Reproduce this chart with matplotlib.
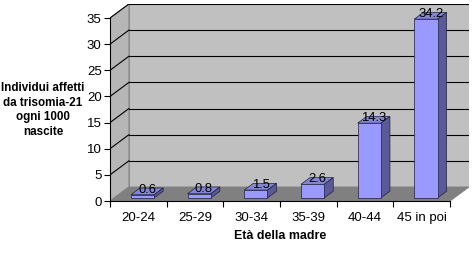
import matplotlib
matplotlib.use("Agg")
import matplotlib.pyplot as plt
from matplotlib.patches import Polygon
import numpy as np

# ---------------------------------------------------------------------------
# Data
# ---------------------------------------------------------------------------
categories = ["20-24", "25-29", "30-34", "35-39", "40-44", "45 in poi"]
values = [0.6, 0.8, 1.5, 2.6, 14.3, 34.2]
yticks = [0, 5, 10, 15, 20, 25, 30, 35]

# ---------------------------------------------------------------------------
# Figure
# ---------------------------------------------------------------------------
plt.rcParams.update({"font.family": "Liberation Sans", "font.size": 9.5})

C_FRONT = "#9999ff"
C_TOP = "#8585d6"
C_SIDE = "#5a5a96"
C_WALL = "#c0c0c0"
C_LWALL = "#b6b6b6"
C_FLOOR = "#808080"

DX, DY = 0.333, 2.68      # depth offset of the 3-D box (data units)
F0, F1 = 0.22, 0.70       # bar front / back depth fraction
W = 0.41                  # bar width

fig = plt.figure(figsize=(4.74, 2.54), dpi=100)
ax = fig.add_axes([110 / 474, 53 / 254, 359 / 474, 197 / 254])
ax.set_xlim(-0.5, 5.5 + DX)
ax.set_ylim(0, 35 + DY)
ax.patch.set_visible(False)

n = len(categories)
x0, x1 = -0.5, n - 0.5

# walls and floor
ax.add_patch(Polygon([(x0 + DX, DY), (x1 + DX, DY), (x1 + DX, 35 + DY), (x0 + DX, 35 + DY)],
                     closed=True, fc=C_WALL, ec="#808080", lw=0.6, zorder=0))
ax.add_patch(Polygon([(x0, 0), (x0, 35), (x0 + DX, 35 + DY), (x0 + DX, DY)],
                     closed=True, fc=C_LWALL, ec="#808080", lw=0.6, zorder=0))
ax.add_patch(Polygon([(x0, 0), (x1, 0), (x1 + DX, DY), (x0 + DX, DY)],
                     closed=True, fc=C_FLOOR, ec="#808080", lw=0.6, zorder=1))

# gridlines on back and left wall
for v in yticks[1:]:
    ax.plot([x0 + DX, x1 + DX], [v + DY, v + DY], color="black", lw=0.8, zorder=1)
    ax.plot([x0, x0 + DX], [v, v + DY], color="black", lw=0.8, zorder=1)

# bars
xs = np.arange(n)
ax.bar(xs + F0 * DX, values, width=W, bottom=F0 * DY, color=C_FRONT,
       edgecolor="#202040", linewidth=0.5, zorder=4)
for xc, v in zip(xs, values):
    l = xc + F0 * DX - W / 2
    r = xc + F0 * DX + W / 2
    b = F0 * DY
    t = v + F0 * DY
    ddx, ddy = (F1 - F0) * DX, (F1 - F0) * DY
    ax.add_patch(Polygon([(l, t), (r, t), (r + ddx, t + ddy), (l + ddx, t + ddy)],
                         closed=True, fc=C_TOP, ec="#202040", lw=0.5, zorder=3))
    ax.add_patch(Polygon([(r, b), (r, t), (r + ddx, t + ddy), (r + ddx, b + ddy)],
                         closed=True, fc=C_SIDE, ec="#202040", lw=0.5, zorder=3))

# value labels
for xc, v in zip(xs, values):
    ax.text(xc + 0.47 * DX, v + 0.47 * DY + 0.3, f"{v:.1f}",
            ha="center", va="center", fontsize=9.4, color="black", zorder=5)

# axes styling
for sp in ["top", "right"]:
    ax.spines[sp].set_visible(False)
ax.spines["left"].set_bounds(0, 35)
ax.spines["bottom"].set_bounds(x0, x1)
ax.spines["left"].set_linewidth(0.8)
ax.spines["bottom"].set_linewidth(0.8)
ax.spines["left"].set_zorder(2)
ax.spines["bottom"].set_zorder(2)

ax.set_yticks(yticks)
ax.set_yticklabels([str(v) for v in yticks])
ax.set_xticks(np.arange(-0.5, n, 1.0))
ax.set_xticklabels([""] * (n + 1))
ax.set_xticks(xs, minor=True)
ax.set_xticklabels(categories, minor=True)
ax.tick_params(axis="x", which="major", length=4, width=0.8)
ax.tick_params(axis="x", which="minor", length=0, pad=8, labelsize=9.5)
ax.tick_params(axis="y", length=4, width=0.8, pad=2, labelsize=9.5)

ax.set_xlabel("Età della madre", fontweight="bold", fontsize=8.9)
ax.xaxis.set_label_coords((280 - 110) / 359, -29 / 197)
fig.text(43 / 474, 1 - 110 / 254, "Individui affetti\nda trisomia-21\nogni 1000\nnascite",
         ha="center", va="center", fontweight="bold", fontsize=8.4, linespacing=1.3)

fig.savefig("out.png", dpi=100)
plt.close(fig)
